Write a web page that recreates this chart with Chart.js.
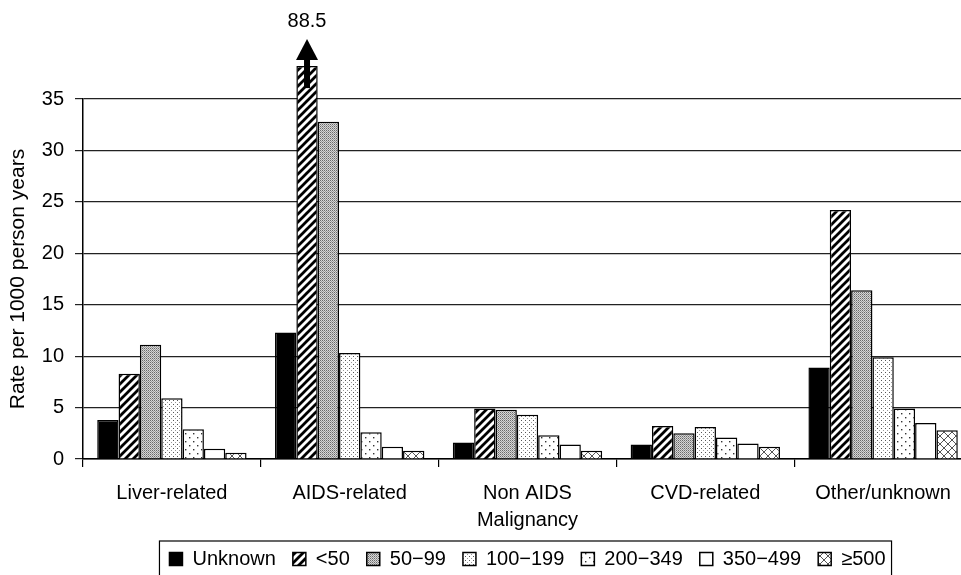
<!DOCTYPE html>
<html>
<head>
<meta charset="utf-8">
<script src="https://cdn.jsdelivr.net/npm/chart.js@4.4.1/dist/chart.umd.min.js"></script>
<style>
  html, body { margin: 0; padding: 0; background: #fff; overflow: hidden; }
  #wrap { width: 972px; height: 575px; }
</style>
</head>
<body>
<div id="wrap"><canvas id="myChart" width="972" height="575"></canvas></div>
<script>
// values (rate per 1000 person years)
var categories = ["Liver-related", "AIDS-related", "Non AIDS", "CVD-related", "Other/unknown"];
var cd4Groups = ["Unknown", "<50", "50\u221299", "100\u2212199", "200\u2212349", "350\u2212499", "\u2265500"];
var unknownVals = [3.8, 12.3, 1.6, 1.4, 8.9];
var lt50Vals    = [8.3, 88.5, 4.9, 3.2, 24.2];
var v50_99      = [11.1, 32.8, 4.8, 2.5, 16.4];
var v100_199    = [5.9, 10.3, 4.3, 3.1, 9.9];
var v200_349    = [2.9, 2.6, 2.3, 2.1, 4.9];
var v350_499    = [1.0, 1.2, 1.4, 1.5, 3.5];
var v500plus    = [0.6, 0.8, 0.8, 1.2, 2.8];
var yTicks = [0, 5, 10, 15, 20, 25, 30, 35];
var brokenCap = 38.2;   // bars beyond the axis are drawn cut off here, with an arrow

var ctx = document.getElementById("myChart").getContext("2d");

function makePattern(size, draw) {
  var c = document.createElement("canvas");
  c.width = size; c.height = size;
  var g = c.getContext("2d");
  g.fillStyle = "#fff";
  g.fillRect(0, 0, size, size);
  draw(g, size);
  return ctx.createPattern(c, "repeat");
}

var fills = [
  "#000",
  makePattern(8, function(g, s) {
    g.strokeStyle = "#000"; g.lineWidth = 2.8;
    g.beginPath();
    g.moveTo(-2, s + 2); g.lineTo(s + 2, -2);
    g.moveTo(-2, 2); g.lineTo(2, -2);
    g.moveTo(s - 2, s + 2); g.lineTo(s + 2, s - 2);
    g.stroke();
  }),
  makePattern(2, function(g) {
    g.fillStyle = "#d6d6d6"; g.fillRect(0, 0, 2, 2);
    g.fillStyle = "#6a6a6a"; g.fillRect(0, 0, 1, 1);
    g.fillStyle = "#9a9a9a"; g.fillRect(1, 1, 1, 1);
  }),
  makePattern(4, function(g) {
    g.fillStyle = "#555"; g.fillRect(1, 0, 1, 1);
    g.fillStyle = "#999"; g.fillRect(3, 2, 1, 1);
  }),
  makePattern(8, function(g) {
    g.fillStyle = "#333"; g.fillRect(1, 1, 1.4, 1.4);
    g.fillRect(5, 5, 1.4, 1.4);
  }),
  "#fff",
  makePattern(8, function(g, s) {
    g.strokeStyle = "#555"; g.lineWidth = 1;
    g.beginPath();
    g.moveTo(0, s); g.lineTo(s, 0);
    g.moveTo(0, 0); g.lineTo(s, s);
    g.stroke();
  })
];

var series = [unknownVals, lt50Vals, v50_99, v100_199, v200_349, v350_499, v500plus];
var datasets = series.map(function(vals, i) {
  return {
    label: cd4Groups[i],
    data: vals.map(function(v) { return Math.min(v, brokenCap); }),
    realData: vals,
    backgroundColor: fills[i],
    borderColor: "#000",
    borderWidth: 1.5,
    borderSkipped: "bottom",
    clip: false,
    categoryPercentage: 0.84,
    barPercentage: 1.0
  };
});

var font = { family: "'Liberation Sans', Arial, Helvetica, sans-serif", size: 20 };

var arrowPlugin = {
  id: "arrowPlugin",
  afterDatasetsDraw: function(chart) {
    var c = chart.ctx;
    chart.data.datasets.forEach(function(ds, di) {
      ds.realData.forEach(function(v, i) {
        if (v <= brokenCap) return;
        var bar = chart.getDatasetMeta(di).data[i];
        var x = bar.x, top = bar.y;
        c.save();
        c.fillStyle = "#000";
        c.fillRect(x - 3, top - 7, 6, 29);
        c.beginPath();
        c.moveTo(x - 11, top - 6);
        c.lineTo(x + 11, top - 6);
        c.lineTo(x, top - 27);
        c.closePath();
        c.fill();
        c.font = font.size + "px " + font.family;
        c.textAlign = "center";
        c.textBaseline = "middle";
        c.fillText(String(v), x, top - 45);
        c.restore();
      });
    });
  }
};

var legendBox = {
  id: "legendBox",
  afterDraw: function(chart) {
    var lg = chart.legend;
    if (!lg || !lg.legendHitBoxes.length) return;
    var hb = lg.legendHitBoxes;
    var l = hb[0].left - 10;
    var last = hb[hb.length - 1];
    var r = last.left + last.width + 6;
    var t = hb[0].top - 8;
    var c = chart.ctx;
    c.save();
    c.strokeStyle = "#000";
    c.lineWidth = 1.2;
    c.strokeRect(l, t, r - l, 60);
    c.restore();
  }
};

new Chart("myChart", {
  type: "bar",
  data: { labels: categories, datasets: datasets },
  options: {
    responsive: false,
    animation: false,
    layout: { padding: { top: 99, right: 0, bottom: -4, left: 0 } },
    plugins: {
      legend: {
        position: "bottom",
        fullSize: false,
        labels: {
          color: "#000",
          font: font,
          boxWidth: 13,
          boxHeight: 13,
          padding: 17
        }
      },
      tooltip: { enabled: false }
    },
    scales: {
      x: {
        grid: { drawOnChartArea: false, color: "#000", tickLength: 8, lineWidth: 1.2 },
        border: { color: "#000", width: 1.5 },
        ticks: { color: "#000", font: font, padding: 14 },
        title: { display: true, text: "Malignancy", color: "#000", font: font, padding: { top: 2, bottom: 0 } },
        afterFit: function(s) { s.height = 73; }
      },
      y: {
        min: 0,
        max: 35,
        afterBuildTicks: function(s) { s.ticks = yTicks.map(function(v) { return { value: v }; }); },
        grid: { color: "#222", lineWidth: 1.2, tickLength: 8 },
        border: { color: "#000", width: 1.5 },
        ticks: { color: "#000", font: font, padding: 11 },
        title: { display: true, text: "Rate per 1000 person years", color: "#000", font: { family: font.family, size: 21 }, padding: { top: 6, bottom: 0 } },
        afterFit: function(s) { s.width = 83; }
      }
    }
  },
  plugins: [arrowPlugin, legendBox]
});
</script>
</body>
</html>
